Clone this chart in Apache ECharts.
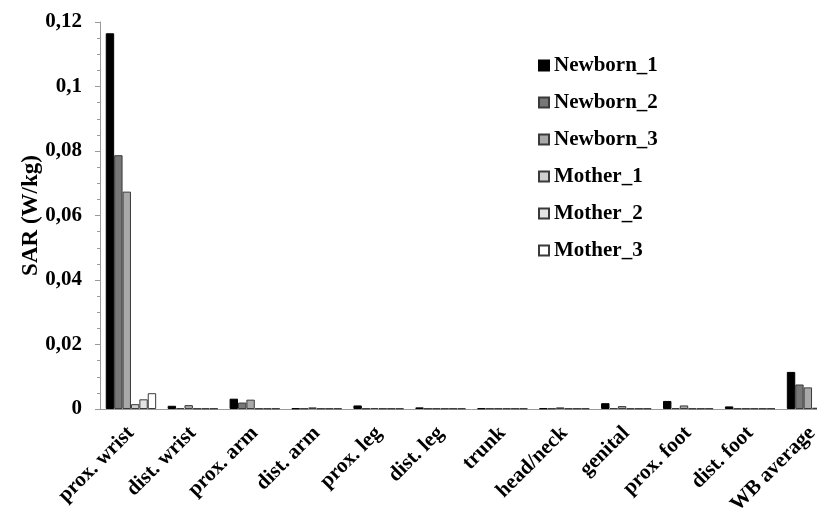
<!DOCTYPE html>
<html>
<head>
<meta charset="utf-8">
<script src="https://cdn.jsdelivr.net/npm/echarts@6/dist/echarts.min.js"></script>
<style>
html,body{margin:0;padding:0;background:#fff;overflow:hidden;width:817px;height:510px;}
#chart{width:843px;height:510px;}
</style>
</head>
<body>
<div id="chart"></div>
<script>
const categories = ['prox. wrist','dist. wrist','prox. arm','dist. arm','prox. leg','dist. leg','trunk','head/neck','genital','prox. foot','dist. foot','WB average'];
const seriesNames = ['Newborn_1','Newborn_2','Newborn_3','Mother_1','Mother_2','Mother_3'];
const newborn1 = [0.1165,0.0010,0.0032,0.0002,0.0011,0.0005,0.0002,0.0002,0.0018,0.0025,0.0008,0.0115];
const newborn2 = [0.0787,0.0003,0.0020,0.0002,0.0002,0.0002,0.0002,0.0002,0.0003,0.0003,0.0002,0.0076];
const newborn3 = [0.0674,0.0012,0.0029,0.0005,0.0003,0.0002,0.0002,0.0005,0.0009,0.0011,0.0002,0.0067];
const mother1 = [0.0015,0.0002,0.0002,0.0002,0.0002,0.0002,0.0002,0.0002,0.0002,0.0002,0.0002,0.0004];
const mother2 = [0.0030,0.0002,0.0002,0.0002,0.0002,0.0002,0.0002,0.0002,0.0002,0.0002,0.0002,0.0004];
const mother3 = [0.0049,0.0002,0.0002,0.0002,0.0002,0.0002,0.0002,0.0002,0.0002,0.0002,0.0002,0.0005];
const yTickLabels = ['0','0,02','0,04','0,06','0,08','0,1','0,12'];

const allData = [newborn1,newborn2,newborn3,mother1,mother2,mother3];
const fills = ['#000000','#777777','#a9a9a9','#cfcfcf','#e4e4e4','#ffffff'];
const FONT = "'Liberation Serif','Times New Roman',serif";

const chart = echarts.init(document.getElementById('chart'), null, {renderer:'canvas'});
chart.setOption({
  animation:false,
  backgroundColor:'#ffffff',
  grid:{left:100, top:22, width:743, height:387, containLabel:false, outerBoundsMode:'none'},
  legend:{
    orient:'vertical', left:538, top:55, padding:0,
    itemWidth:10, itemHeight:10, itemGap:16,
    icon:'rect',
    textStyle:{fontFamily:FONT, fontWeight:'bold', fontSize:21, color:'#000', lineHeight:21},
    data:seriesNames
  },
  xAxis:{
    type:'category', data:categories,
    axisLine:{lineStyle:{color:'#9a9a9a', width:1}},
    axisTick:{show:false},
    axisLabel:{rotate:45, interval:0, margin:21, fontFamily:FONT, fontWeight:'bold', fontSize:21, color:'#000'}
  },
  yAxis:{
    type:'value', min:0, max:0.12, interval:0.02,
    name:'SAR (W/kg)', nameLocation:'middle', nameRotate:90, nameGap:57, nameMoveOverlap:false,
    nameTextStyle:{fontFamily:FONT, fontWeight:'bold', fontSize:23, color:'#000'},
    axisLine:{show:true, lineStyle:{color:'#9a9a9a', width:1}},
    axisTick:{show:true, length:5, lineStyle:{color:'#9a9a9a'}},
    minorTick:{show:true, splitNumber:4, length:3, lineStyle:{color:'#9a9a9a'}},
    splitLine:{show:false},
    axisLabel:{margin:18, fontFamily:FONT, fontWeight:'bold', fontSize:21, color:'#000',
      formatter:function(v){ return yTickLabels[Math.round(v/0.02)]; }}
  },
  series: seriesNames.map(function(n,i){
    return {
      name:n, type:'bar', data:allData[i],
      barGap:'0%', barCategoryGap:'18.6%',
      itemStyle:{color:fills[i], borderColor: i===0 ? '#000' : '#3a3a3a', borderWidth:1}
    };
  })
});
</script>
</body>
</html>
